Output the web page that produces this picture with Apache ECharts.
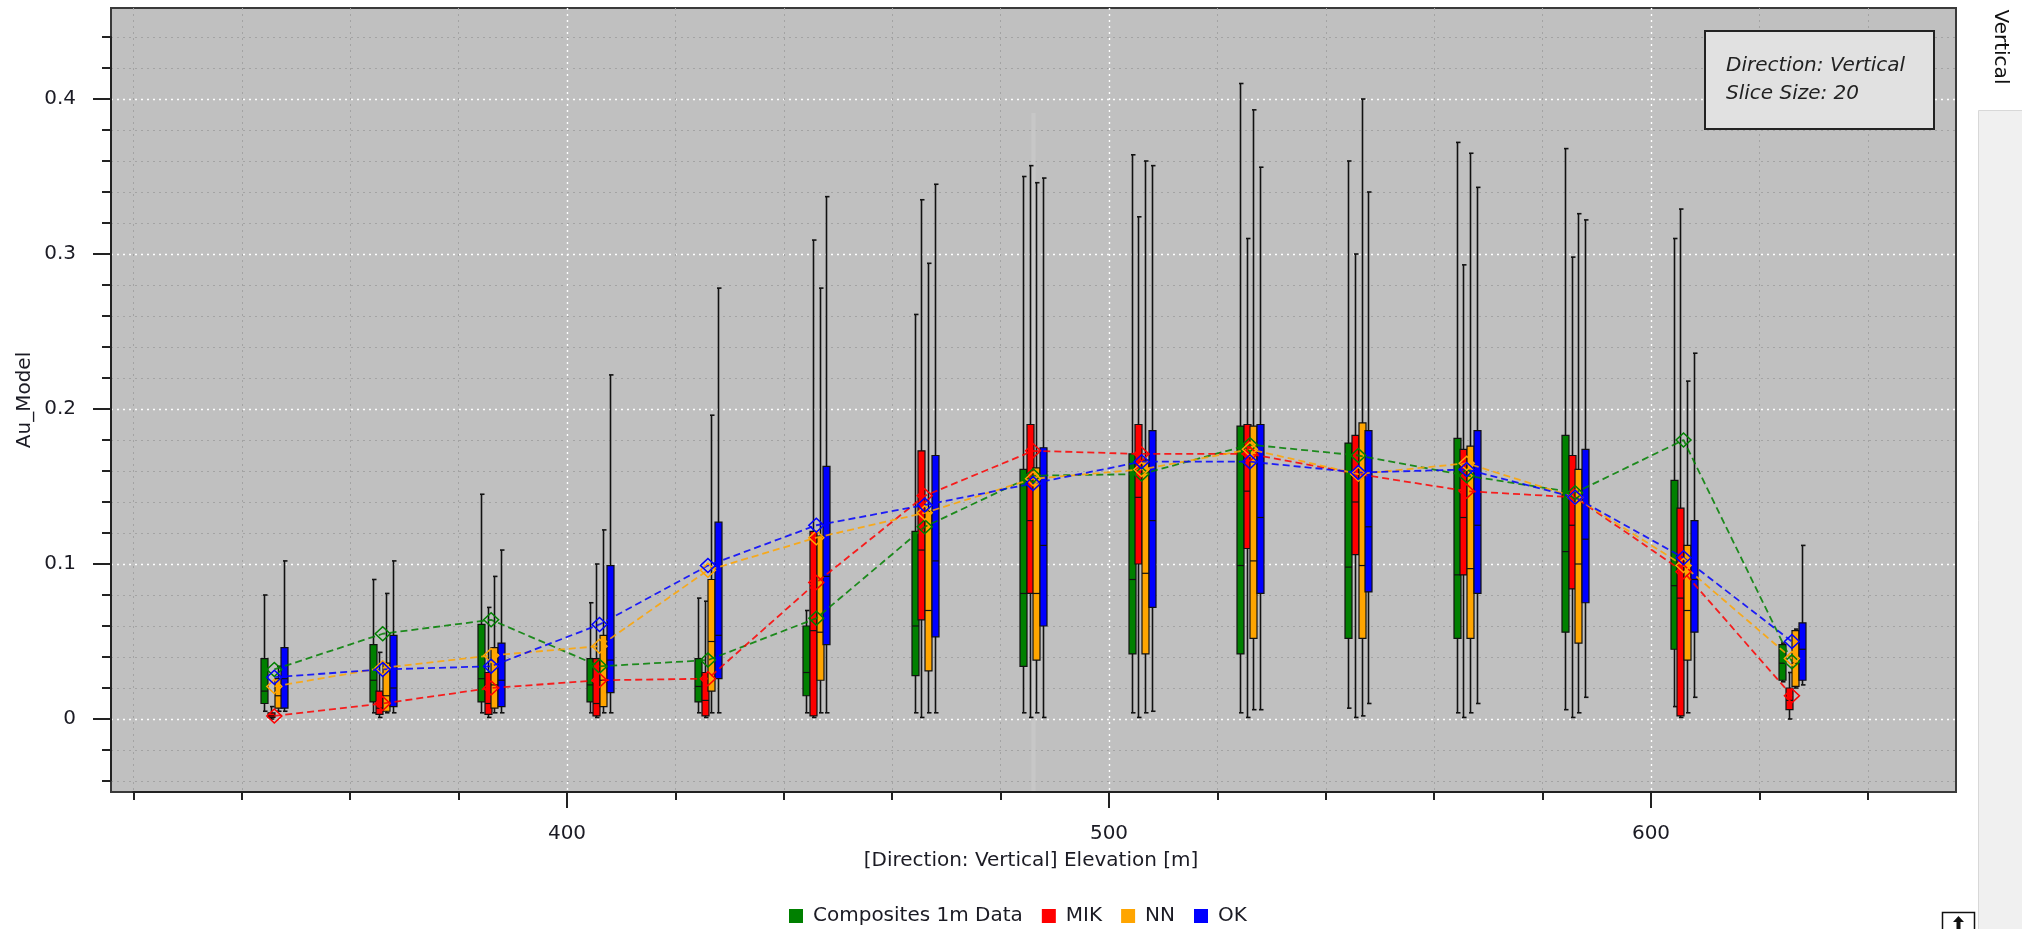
<!DOCTYPE html>
<html><head><meta charset="utf-8">
<script src="https://cdn.jsdelivr.net/npm/echarts@6.0.0/dist/echarts.min.js"></script>
<style>html,body{margin:0;padding:0;background:#fff}#c{width:2022px;height:929px}</style>
</head><body><div id="c"></div><script>
// ---------- data ----------
const seriesNames = ['Composites 1m Data', 'MIK', 'NN', 'OK'];
const seriesColors = ['#008000', '#ff0000', '#ffa500', '#0000ff'];
const elevations = [346, 366, 386, 406, 426, 446, 466, 486, 506, 526, 546, 566, 586, 606, 626];
const yTickLabels = ['0', '0.1', '0.2', '0.3', '0.4'];
const xTickLabels = ['400', '500', '600'];

// Composites 1m Data
const compMin  = [0.005,0.004,0.004,0.004,0.004,0.004,0.004,0.004,0.004,0.004,0.007,0.004,0.006,0.008,0.024];
const compQ1   = [0.010,0.011,0.011,0.011,0.011,0.015,0.028,0.034,0.042,0.042,0.052,0.052,0.056,0.045,0.025];
const compMed  = [0.018,0.025,0.026,0.022,0.021,0.030,0.060,0.081,0.090,0.099,0.098,0.093,0.108,0.086,0.036];
const compQ3   = [0.039,0.048,0.061,0.039,0.039,0.060,0.121,0.161,0.171,0.189,0.178,0.181,0.183,0.154,0.048];
const compMax  = [0.080,0.090,0.145,0.075,0.078,0.070,0.261,0.350,0.364,0.410,0.360,0.372,0.368,0.310,0.049];
const compMean = [0.032,0.055,0.064,0.034,0.038,0.065,0.124,0.157,0.158,0.177,0.170,0.157,0.146,0.180,0.037];
// MIK
const mikMin   = [0.000,0.001,0.001,0.001,0.001,0.001,0.001,0.001,0.001,0.001,0.001,0.001,0.001,0.001,0.000];
const mikQ1    = [0.001,0.003,0.003,0.002,0.002,0.002,0.064,0.081,0.100,0.110,0.106,0.093,0.084,0.002,0.006];
const mikMed   = [0.002,0.007,0.010,0.010,0.012,0.057,0.109,0.128,0.143,0.147,0.140,0.130,0.125,0.078,0.012];
const mikQ3    = [0.004,0.018,0.030,0.039,0.030,0.121,0.173,0.190,0.190,0.190,0.183,0.174,0.170,0.136,0.020];
const mikMax   = [0.008,0.043,0.072,0.100,0.076,0.309,0.335,0.357,0.324,0.310,0.300,0.293,0.298,0.329,0.030];
const mikMean  = [0.002,0.010,0.020,0.025,0.026,0.088,0.144,0.173,0.171,0.171,0.158,0.147,0.143,0.095,0.015];
// NN
const nnMin    = [0.005,0.004,0.004,0.004,0.004,0.004,0.004,0.004,0.004,0.006,0.002,0.004,0.004,0.004,0.020];
const nnQ1     = [0.007,0.005,0.007,0.008,0.018,0.025,0.031,0.038,0.042,0.052,0.052,0.052,0.049,0.038,0.021];
const nnMed    = [0.015,0.015,0.022,0.025,0.050,0.056,0.070,0.081,0.094,0.102,0.099,0.097,0.100,0.070,0.036];
const nnQ3     = [0.026,0.036,0.046,0.054,0.090,0.118,0.134,0.162,0.167,0.189,0.191,0.176,0.161,0.112,0.057];
const nnMax    = [0.034,0.081,0.092,0.122,0.196,0.278,0.294,0.346,0.360,0.393,0.400,0.365,0.326,0.218,0.058];
const nnMean   = [0.021,0.033,0.041,0.047,0.096,0.117,0.133,0.155,0.161,0.174,0.158,0.165,0.143,0.099,0.039];
// OK
const okMin    = [0.005,0.004,0.004,0.004,0.004,0.004,0.004,0.001,0.005,0.006,0.010,0.010,0.014,0.014,0.022];
const okQ1     = [0.007,0.008,0.008,0.017,0.026,0.048,0.053,0.060,0.072,0.081,0.082,0.081,0.075,0.056,0.025];
const okMed    = [0.026,0.020,0.025,0.038,0.054,0.092,0.102,0.112,0.128,0.130,0.124,0.125,0.116,0.090,0.045];
const okQ3     = [0.046,0.054,0.049,0.099,0.127,0.163,0.170,0.175,0.186,0.190,0.186,0.186,0.174,0.128,0.062];
const okMax    = [0.102,0.102,0.109,0.222,0.278,0.337,0.345,0.349,0.357,0.356,0.340,0.343,0.322,0.236,0.112];
const okMean   = [0.027,0.032,0.034,0.061,0.099,0.125,0.138,0.152,0.166,0.166,0.159,0.161,0.143,0.104,0.050];

// ---------- build ----------
const stats = [
  [compMin, compQ1, compMed, compQ3, compMax, compMean],
  [mikMin, mikQ1, mikMed, mikQ3, mikMax, mikMean],
  [nnMin, nnQ1, nnMed, nnQ3, nnMax, nnMean],
  [okMin, okQ1, okMed, okQ3, okMax, okMean]
];
const BOX_OFFSETS = [-10, -3.3, 3.3, 10];
const BOX_W = 7;
const FONT = 'DejaVu Sans';
const TXT = '#1b1b24';

function boxRenderer(offset, color) {
  return function (params, api) {
    const x = api.value(0);
    const top = api.coord([x, api.value(5)]);
    const q3 = api.coord([x, api.value(4)]);
    const med = api.coord([x, api.value(3)]);
    const q1 = api.coord([x, api.value(2)]);
    const bot = api.coord([x, api.value(1)]);
    const cx = Math.round(top[0] + offset) + 0.5;
    const h = BOX_W / 2;
    const ls = { stroke: '#111', lineWidth: 1.6 };
    return {
      type: 'group',
      children: [
        { type: 'line', shape: { x1: cx, y1: top[1], x2: cx, y2: bot[1] }, style: ls },
        { type: 'line', shape: { x1: cx - 1.5, y1: top[1], x2: cx + 3, y2: top[1] }, style: ls },
        { type: 'line', shape: { x1: cx - 1.5, y1: bot[1], x2: cx + 3, y2: bot[1] }, style: ls },
        { type: 'rect', shape: { x: cx - h, y: q3[1], width: BOX_W, height: Math.max(q1[1] - q3[1], 1) },
          style: { fill: color, stroke: '#111', lineWidth: 1.2 } },
        { type: 'line', shape: { x1: cx - h, y1: med[1], x2: cx + h, y2: med[1] },
          style: { stroke: '#111', lineWidth: 1.2 } }
      ]
    };
  };
}

const series = [];
stats.forEach(function (s, i) {
  const rows = elevations.map(function (e, k) { return [e, s[0][k], s[1][k], s[2][k], s[3][k], s[4][k]]; });
  series.push({
    type: 'custom', name: seriesNames[i], xAxisIndex: 5, yAxisIndex: 5,
    itemStyle: { color: seriesColors[i] },
    renderItem: boxRenderer(BOX_OFFSETS[i], seriesColors[i]),
    encode: { x: 0, y: [1, 2, 3, 4, 5] },
    data: rows, z: 3, silent: true
  });
});
stats.forEach(function (s, i) {
  series.push({
    type: 'line', name: seriesNames[i], xAxisIndex: 5, yAxisIndex: 5,
    data: elevations.map(function (e, k) { return [e, s[5][k]]; }),
    symbol: 'diamond', symbolSize: [15, 14], clip: false,
    itemStyle: { color: 'rgba(0,0,0,0)', borderColor: seriesColors[i], borderWidth: 1.5 },
    lineStyle: { color: seriesColors[i], width: 1.8, type: [7, 4], opacity: 0.85 },
    z: 5, silent: true
  });
});

const hidden = { show: false };
function hiddenX(gi) { return { type: 'value', gridIndex: gi, show: false, min: 0, max: 1 }; }
function hiddenY(gi) { return { type: 'value', gridIndex: gi, show: false, min: 0, max: 1 }; }
const minorDot = { show: true, lineStyle: { color: '#a3a3a3', width: 1, type: [2, 4] } };
const majorDot = { show: true, lineStyle: { color: '#ffffff', width: 1.4, type: [2, 4] } };

const option = {
  animation: false,
  backgroundColor: '#ffffff',
  grid: [
    { left: 111, top: 8, width: 1845, height: 784, show: true, backgroundColor: '#c0c0c0', borderColor: '#3a3a3a', borderWidth: 2 },
    { left: 111, top: 37, width: 1845, height: 744 },
    { left: 111, top: 99, width: 1845, height: 620 },
    { left: 133.4, top: 8, width: 1734.4, height: 784 },
    { left: 567, top: 8, width: 1084, height: 784 },
    { left: 133.4, top: 37, width: 1734.4, height: 744 }
  ],
  xAxis: [
    hiddenX(0), hiddenX(1), hiddenX(2),
    { type: 'value', gridIndex: 3, min: 320, max: 640, interval: 20, position: 'bottom', offset: 7,
      axisLine: { show: true, lineStyle: { color: '#222', width: 2 } },
      axisTick: { show: true, length: 8, lineStyle: { color: '#222', width: 2 } },
      axisLabel: hidden, splitLine: minorDot },
    { type: 'value', gridIndex: 4, min: 400, max: 600, interval: 100, position: 'bottom', offset: 7,
      axisLine: hidden,
      axisTick: { show: true, length: 16, lineStyle: { color: '#222', width: 2 } },
      axisLabel: { show: true, margin: 25, fontFamily: FONT, fontSize: 20, color: TXT,
        formatter: function (v) { return xTickLabels[Math.round((v - 400) / 100)]; } },
      splitLine: majorDot },
    { type: 'value', gridIndex: 5, min: 320, max: 640, show: false }
  ],
  yAxis: [
    hiddenY(0),
    { type: 'value', gridIndex: 1, min: -0.04, max: 0.44, interval: 0.02, position: 'left', offset: 6,
      axisLine: { show: true, lineStyle: { color: '#222', width: 2 } },
      axisTick: { show: true, length: 9, lineStyle: { color: '#222', width: 2 } },
      axisLabel: hidden, splitLine: minorDot },
    { type: 'value', gridIndex: 2, min: 0, max: 0.4, interval: 0.1, position: 'left', offset: 6,
      axisLine: hidden,
      axisTick: { show: true, length: 18, lineStyle: { color: '#222', width: 2 } },
      axisLabel: { show: true, margin: 29, fontFamily: FONT, fontSize: 20, color: TXT,
        formatter: function (v) { return yTickLabels[Math.round(v * 10)]; } },
      splitLine: majorDot },
    hiddenY(3), hiddenY(4),
    { type: 'value', gridIndex: 5, min: -0.04, max: 0.44, show: false }
  ],
  legend: {
    left: 784, top: 901, itemWidth: 14, itemHeight: 14, itemGap: 19,
    icon: 'rect',
    textStyle: { fontFamily: FONT, fontSize: 20, color: TXT, padding: [0, 0, 0, 5] },
    data: seriesNames.map(function (n, i) { return { name: n, icon: 'rect', itemStyle: { color: seriesColors[i], borderWidth: 0 } }; }),
    selectedMode: false
  },
  graphic: [
    { type: 'rect', z: 1, silent: true, shape: { x: 1031.5, y: 113, width: 4, height: 678 }, style: { fill: '#c7c7c7' } },
    { type: 'text', z: 10, x: 25, y: 400, rotation: Math.PI / 2,
      style: { text: 'Au_Model', font: '20px "DejaVu Sans"', fill: TXT, align: 'center', verticalAlign: 'middle' } },
    { type: 'text', z: 10, x: 1031, y: 861,
      style: { text: '[Direction: Vertical] Elevation [m]', font: '20px "DejaVu Sans"', fill: TXT, align: 'center', verticalAlign: 'middle' } },
    { type: 'rect', z: 10, shape: { x: 1705, y: 31, width: 229, height: 98 },
      style: { fill: '#e1e1e1', stroke: '#222', lineWidth: 2 } },
    { type: 'text', z: 11, x: 1726, y: 66,
      style: { text: 'Direction: Vertical', font: 'italic 20px "DejaVu Sans"', fill: '#222', align: 'left', verticalAlign: 'middle' } },
    { type: 'text', z: 11, x: 1726, y: 94,
      style: { text: 'Slice Size: 20', font: 'italic 20px "DejaVu Sans"', fill: '#222', align: 'left', verticalAlign: 'middle' } },
    { type: 'rect', z: 10, shape: { x: 1978.5, y: 110.5, width: 50, height: 830 },
      style: { fill: '#f0f0f0', stroke: '#d8d8d8', lineWidth: 1 } },
    { type: 'text', z: 11, x: 2000, y: 47, rotation: -Math.PI / 2,
      style: { text: 'Vertical', font: '20px "DejaVu Sans"', fill: '#111', align: 'center', verticalAlign: 'middle' } },
    { type: 'rect', z: 10, shape: { x: 1942.5, y: 912.5, width: 32, height: 22 },
      style: { fill: '#fff', stroke: '#111', lineWidth: 1.5 } },
    { type: 'polygon', z: 11, shape: { points: [[1958.5, 916], [1953, 922], [1956.5, 922], [1956.5, 929], [1960.5, 929], [1960.5, 922], [1964, 922]] },
      style: { fill: '#111' } }
  ],
  series: series
};

const chart = echarts.init(document.getElementById('c'), null, { renderer: 'canvas', width: 2022, height: 929 });
chart.setOption(option);
</script></body></html>
